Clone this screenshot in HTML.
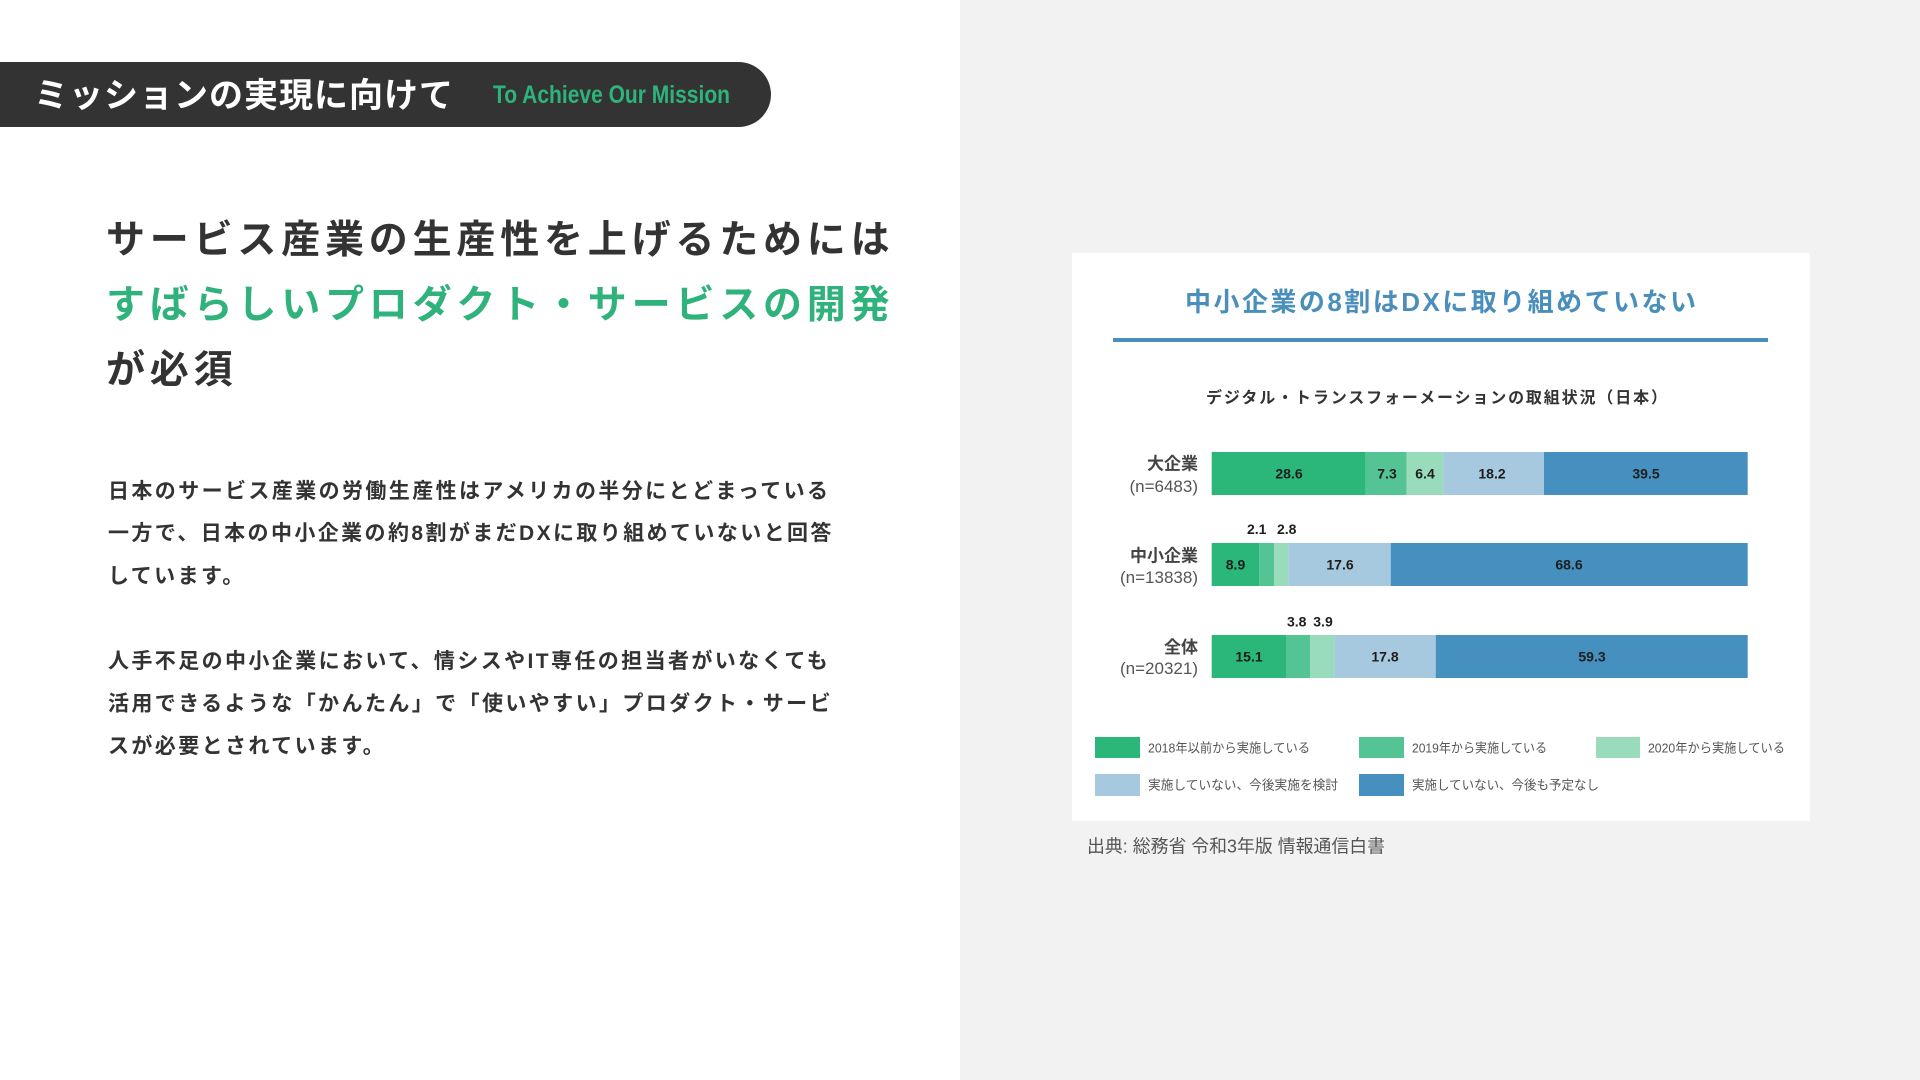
<!DOCTYPE html>
<html lang="ja">
<head>
<meta charset="utf-8">
<style>
  html, body { margin: 0; padding: 0; }
  body { width: 1920px; height: 1080px; overflow: hidden; background: #ffffff; }
  svg { display: block; }
  .jp { font-family: "Liberation Sans", "Noto Sans CJK JP", sans-serif; }
</style>
</head>
<body>
<svg width="1920" height="1080" viewBox="0 0 1920 1080" xmlns="http://www.w3.org/2000/svg">
  <!-- backgrounds -->
  <rect x="0" y="0" width="960" height="1080" fill="#ffffff"/>
  <rect x="960" y="0" width="960" height="1080" fill="#f2f2f2"/>

  <!-- header bar -->
  <rect x="-60" y="62" width="831" height="65" rx="32.5" ry="32.5" fill="#333333"/>
  <text class="jp" x="34" y="107" font-size="34" font-weight="bold" fill="#ffffff" letter-spacing="1">ミッションの実現に向けて</text>
  <text x="493" y="103" font-family="Liberation Sans, sans-serif" font-size="25" font-weight="bold" fill="#2db47c" textLength="237" lengthAdjust="spacingAndGlyphs">To Achieve Our Mission</text>

  <!-- headline -->
  <g class="jp" font-size="39" font-weight="bold" letter-spacing="4.8">
    <text x="106" y="252.8" fill="#333333">サービス産業の生産性を上げるためには</text>
    <text x="106" y="317.8" fill="#30b27c">すばらしいプロダクト・サービスの開発</text>
    <text x="106" y="382.8" fill="#333333">が必須</text>
  </g>

  <!-- paragraphs -->
  <g class="jp" font-size="21" font-weight="bold" fill="#333333" letter-spacing="2.4">
    <text x="108" y="498">日本のサービス産業の労働生産性はアメリカの半分にとどまっている</text>
    <text x="108" y="540">一方で、日本の中小企業の約8割がまだDXに取り組めていないと回答</text>
    <text x="108" y="583">しています。</text>
    <text x="108" y="668">人手不足の中小企業において、情シスやIT専任の担当者がいなくても</text>
    <text x="108" y="710.5">活用できるような「かんたん」で「使いやすい」プロダクト・サービ</text>
    <text x="108" y="753">スが必要とされています。</text>
  </g>

  <!-- chart card -->
  <rect x="1072" y="253" width="738" height="568" fill="#ffffff"/>
  <text class="jp" x="1185" y="311" font-size="26" font-weight="bold" fill="#4a8fbb" textLength="511" lengthAdjust="spacing">中小企業の8割はDXに取り組めていない</text>
  <rect x="1113" y="338" width="655" height="4" fill="#4a8fbb"/>
  <text class="jp" x="1206" y="403" font-size="16" font-weight="bold" fill="#333333" textLength="461" lengthAdjust="spacing">デジタル・トランスフォーメーションの取組状況（日本）</text>

  <!-- bar 1 -->
  <rect x="1211.7" y="452" width="154" height="43" fill="#2bb67a"/>
  <rect x="1365.7" y="452" width="41" height="43" fill="#55c494"/>
  <rect x="1406.7" y="452" width="36.6" height="43" fill="#98dcbb"/>
  <rect x="1443.3" y="452" width="100.7" height="43" fill="#a6c9df"/>
  <rect x="1544" y="452" width="203.7" height="43" fill="#4690bf"/>
  <!-- bar 2 -->
  <rect x="1211.7" y="543" width="47.6" height="43" fill="#2bb67a"/>
  <rect x="1259.3" y="543" width="14.7" height="43" fill="#55c494"/>
  <rect x="1274" y="543" width="14.3" height="43" fill="#98dcbb"/>
  <rect x="1288.3" y="543" width="102.4" height="43" fill="#a6c9df"/>
  <rect x="1390.7" y="543" width="357" height="43" fill="#4690bf"/>
  <!-- bar 3 -->
  <rect x="1211.7" y="635" width="74.3" height="43" fill="#2bb67a"/>
  <rect x="1286" y="635" width="24" height="43" fill="#55c494"/>
  <rect x="1310" y="635" width="24.3" height="43" fill="#98dcbb"/>
  <rect x="1334.3" y="635" width="101.4" height="43" fill="#a6c9df"/>
  <rect x="1435.7" y="635" width="312" height="43" fill="#4690bf"/>

  <!-- value labels -->
  <g font-family="Liberation Sans, sans-serif" font-size="14" font-weight="bold" fill="#1e1e1e" text-anchor="middle">
    <text x="1289" y="478.5">28.6</text>
    <text x="1387" y="478.5">7.3</text>
    <text x="1425" y="478.5">6.4</text>
    <text x="1492" y="478.5">18.2</text>
    <text x="1646" y="478.5">39.5</text>

    <text x="1256.7" y="534">2.1</text>
    <text x="1286.7" y="534">2.8</text>
    <text x="1235.5" y="569.5">8.9</text>
    <text x="1340" y="569.5">17.6</text>
    <text x="1569" y="569.5">68.6</text>

    <text x="1296.7" y="626.7">3.8</text>
    <text x="1323" y="626.7">3.9</text>
    <text x="1249" y="661.5">15.1</text>
    <text x="1385" y="661.5">17.8</text>
    <text x="1592" y="661.5">59.3</text>
  </g>

  <!-- y labels -->
  <g class="jp" font-size="17" text-anchor="end">
    <text x="1198" y="469.5" font-weight="bold" fill="#444444">大企業</text>
    <text x="1198" y="492" fill="#555555">(n=6483)</text>
    <text x="1198" y="561.5" font-weight="bold" fill="#444444">中小企業</text>
    <text x="1198" y="583" fill="#555555">(n=13838)</text>
    <text x="1198" y="653" font-weight="bold" fill="#444444">全体</text>
    <text x="1198" y="674" fill="#555555">(n=20321)</text>
  </g>

  <!-- legend -->
  <rect x="1095" y="737" width="45" height="21" fill="#2bb67a"/>
  <rect x="1359" y="737" width="45" height="21" fill="#55c494"/>
  <rect x="1596" y="737" width="44" height="21" fill="#98dcbb"/>
  <rect x="1095" y="774" width="45" height="22" fill="#a6c9df"/>
  <rect x="1359" y="774" width="45" height="22" fill="#4690bf"/>
  <g class="jp" font-size="13" fill="#555555">
    <text x="1148" y="752.5" textLength="162" lengthAdjust="spacingAndGlyphs">2018年以前から実施している</text>
    <text x="1412" y="752.5" textLength="135" lengthAdjust="spacingAndGlyphs">2019年から実施している</text>
    <text x="1648" y="752.5" textLength="137" lengthAdjust="spacingAndGlyphs">2020年から実施している</text>
    <text x="1148" y="789.5" textLength="190" lengthAdjust="spacingAndGlyphs">実施していない、今後実施を検討</text>
    <text x="1412" y="789.5" textLength="187" lengthAdjust="spacingAndGlyphs">実施していない、今後も予定なし</text>
  </g>

  <!-- source -->
  <text class="jp" x="1087" y="852.5" font-size="18" fill="#555555" textLength="298" lengthAdjust="spacingAndGlyphs">出典: 総務省 令和3年版 情報通信白書</text>
</svg>
</body>
</html>
